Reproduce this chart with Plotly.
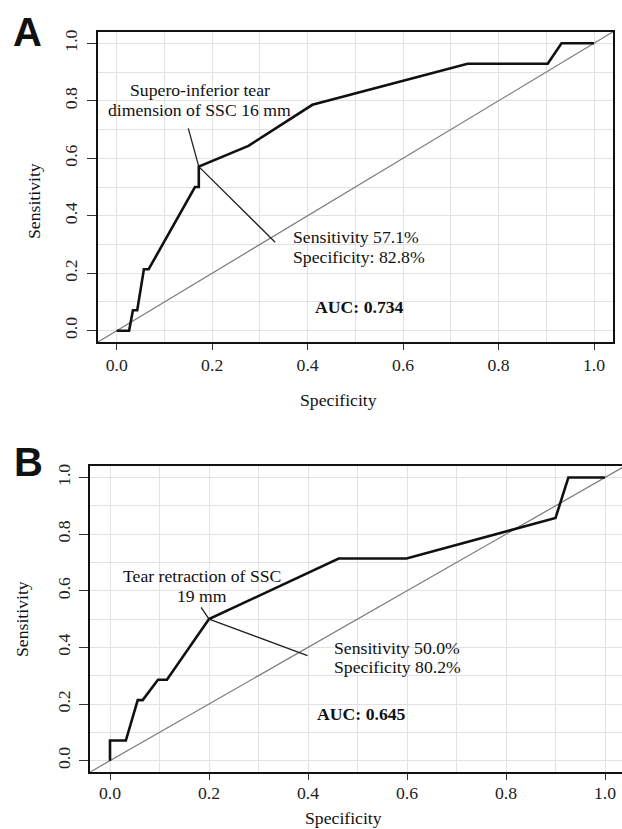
import plotly.graph_objects as go

# ---------------- data ----------------
A_fpr = [0, 0.026, 0.034, 0.043, 0.057, 0.067, 0.164, 0.172, 0.172, 0.276, 0.41, 0.735, 0.903, 0.932, 1.0]
A_sens = [0, 0, 0.071, 0.071, 0.214, 0.214, 0.5, 0.5, 0.571, 0.643, 0.786, 0.929, 0.929, 1.0, 1.0]

B_fpr = [0, 0, 0.032, 0.056, 0.066, 0.097, 0.115, 0.2, 0.462, 0.599, 0.9, 0.926, 1.0]
B_sens = [0, 0.071, 0.071, 0.214, 0.214, 0.286, 0.286, 0.5, 0.714, 0.714, 0.857, 1.0, 1.0]

diag = [-0.04, 1.04]

tick_vals = [0.0, 0.2, 0.4, 0.6, 0.8, 1.0]
tick_text = ["0.0", "0.2", "0.4", "0.6", "0.8", "1.0"]

A_ptr1_x = [0.150, 0.172]
A_ptr1_y = [0.704, 0.571]
A_ptr2_x = [0.172, 0.332]
A_ptr2_y = [0.571, 0.308]
B_ptr1_x = [0.184, 0.2]
B_ptr1_y = [0.541, 0.5]
B_ptr2_x = [0.2, 0.399]
B_ptr2_y = [0.5, 0.371]

A_label_lines = ["Supero-inferior tear", "dimension of SSC 16 mm"]
A_stat_lines = ["Sensitivity 57.1%", "Specificity: 82.8%"]
A_auc = "AUC: 0.734"
B_label_lines = ["Tear retraction of SSC", "19 mm"]
B_stat_lines = ["Sensitivity 50.0%", "Specificity 80.2%"]
B_auc = "AUC: 0.645"

# ---------------- layout helpers ----------------
W, H = 622, 829
def px(x):
    return x / W
def py(y):
    return 1 - y / H

SERIF = "Liberation Serif, Times New Roman, serif"
FS = 17.7

fig = go.Figure()

def add_panel(xa, ya, fpr, sens, p1x, p1y, p2x, p2y):
    fig.add_trace(go.Scatter(x=diag, y=diag, mode="lines",
                             line=dict(color="#7a7a7a", width=1.2),
                             xaxis=xa, yaxis=ya, hoverinfo="skip"))
    fig.add_trace(go.Scatter(x=p1x, y=p1y, mode="lines",
                             line=dict(color="#222", width=1.3),
                             xaxis=xa, yaxis=ya, hoverinfo="skip"))
    fig.add_trace(go.Scatter(x=p2x, y=p2y, mode="lines",
                             line=dict(color="#222", width=1.3),
                             xaxis=xa, yaxis=ya, hoverinfo="skip"))
    fig.add_trace(go.Scatter(x=fpr, y=sens, mode="lines",
                             line=dict(color="#111", width=2.6),
                             xaxis=xa, yaxis=ya))

add_panel("x", "y", A_fpr, A_sens, A_ptr1_x, A_ptr1_y, A_ptr2_x, A_ptr2_y)
add_panel("x2", "y2", B_fpr, B_sens, B_ptr1_x, B_ptr1_y, B_ptr2_x, B_ptr2_y)

grid_col = "#e2e2e2"

def xaxis_cfg(domain, rng, anchor, ticklen, standoff):
    return dict(domain=domain, range=rng, anchor=anchor, autorange=False,
                tickmode="array", tickvals=tick_vals, ticktext=tick_text,
                ticks="outside", ticklen=ticklen, tickwidth=1.4, tickcolor="#333",
                ticklabelstandoff=standoff,
                showline=True, mirror=True, linecolor="#111", linewidth=2,
                showgrid=True, gridcolor=grid_col, gridwidth=1,
                minor=dict(dtick=0.1, tick0=0, showgrid=True, gridcolor=grid_col, gridwidth=1, ticks=""),
                zeroline=False, automargin=False,
                tickfont=dict(family=SERIF, size=FS, color="#222"))

def yaxis_cfg(domain, anchor, mirror, ticklen, standoff):
    return dict(domain=domain, range=[-0.04, 1.04], anchor=anchor, autorange=False,
                tickmode="array", tickvals=tick_vals, ticktext=tick_text,
                ticks="outside", ticklen=ticklen, tickwidth=1.4, tickcolor="#333",
                tickangle=-90, ticklabelstandoff=standoff,
                showline=True, mirror=mirror, linecolor="#111", linewidth=2,
                showgrid=True, gridcolor=grid_col, gridwidth=1,
                minor=dict(dtick=0.1, tick0=0, showgrid=True, gridcolor=grid_col, gridwidth=1, ticks=""),
                zeroline=False, automargin=False,
                tickfont=dict(family=SERIF, size=FS, color="#222"))

A_xdom = [px(97.6), px(613.1)]
A_ydom = [py(342.2), py(31.8)]
B_xdom = [px(90.2), 1.0]
B_ydom = [py(772.0), py(466.2)]
B_xmax = -0.04 + (622 - 90.2) / 495.0

fig.update_layout(
    width=W, height=H,
    margin=dict(l=0, r=0, t=0, b=0),
    paper_bgcolor="white", plot_bgcolor="white",
    showlegend=False,
    xaxis=xaxis_cfg(A_xdom, [-0.04, 1.04], "y", 6, 0),
    yaxis=yaxis_cfg(A_ydom, "x", True, 9, 3),
    xaxis2=xaxis_cfg(B_xdom, [-0.04, B_xmax], "y2", 6, -2),
    yaxis2=yaxis_cfg(B_ydom, "x2", False, 9, 2),
)

ann = []
def txt(text, x, y, xref, yref, size=FS, bold=False, xanchor="center", family=SERIF, textangle=0):
    ann.append(dict(text=("<b>%s</b>" % text) if bold else text, x=x, y=y,
                    xref=xref, yref=yref, showarrow=False, xanchor=xanchor,
                    yanchor="middle", textangle=textangle,
                    font=dict(family=family, size=size, color="#111")))

# panel letters
txt("A", px(27.5), py(32.5), "paper", "paper", size=40, bold=True, family="Liberation Sans, Arial, sans-serif")
txt("B", px(28.5), py(461.5), "paper", "paper", size=40, bold=True, family="Liberation Sans, Arial, sans-serif")

# axis titles
txt("Specificity", px(338), py(400), "paper", "paper")
txt("Specificity", px(343), py(818), "paper", "paper")
txt("Sensitivity", px(34), py(201), "paper", "paper", textangle=-90)
txt("Sensitivity", px(22), py(619), "paper", "paper", textangle=-90)

# panel A annotations
txt(A_label_lines[0], 0.1735, 0.8375, "x", "y")
txt(A_label_lines[1], 0.1735, 0.768, "x", "y")
txt(A_stat_lines[0], 0.365, 0.327, "x", "y", xanchor="left")
txt(A_stat_lines[1], 0.365, 0.255, "x", "y", xanchor="left")
txt(A_auc, 0.508, 0.081, "x", "y", bold=True)

# panel B annotations
txt(B_label_lines[0], 0.185, 0.651, "x2", "y2")
txt(B_label_lines[1], 0.185, 0.583, "x2", "y2")
txt(B_stat_lines[0], 0.449, 0.397, "x2", "y2", xanchor="left")
txt(B_stat_lines[1], 0.449, 0.33, "x2", "y2", xanchor="left")
txt(B_auc, 0.509, 0.165, "x2", "y2", bold=True)

fig.update_layout(annotations=ann)

fig.write_html(
    "out.html",
    config={"displayModeBar": False},
    post_script="document.body.style.margin='0';"
                "document.documentElement.style.overflow='hidden';"
                "document.body.style.overflow='hidden';",
)
